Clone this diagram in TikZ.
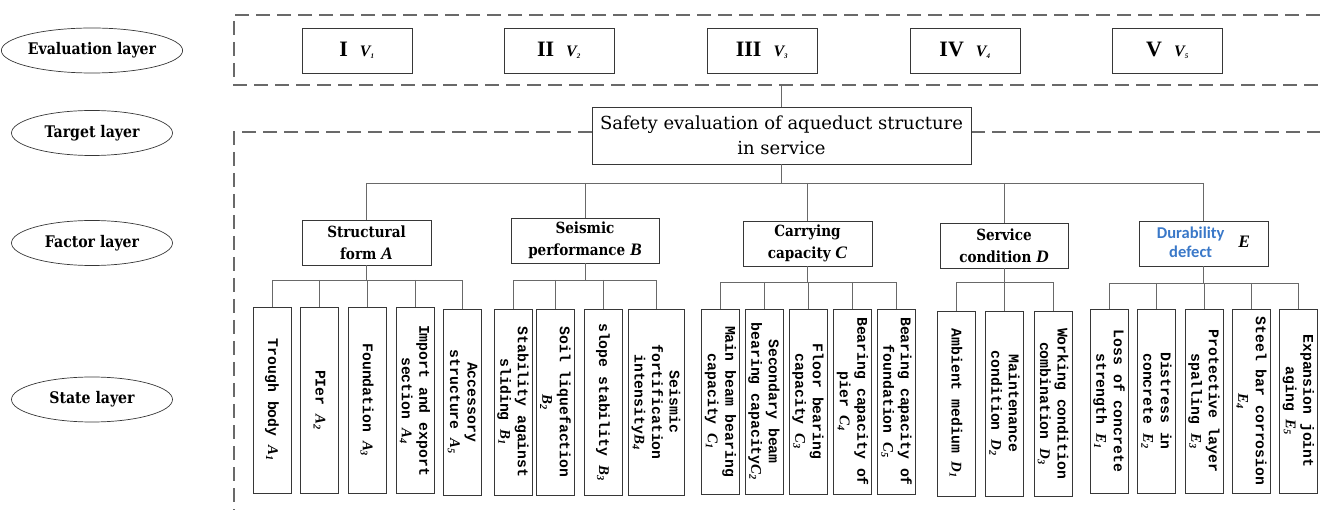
\documentclass[tikz,border=0pt]{standalone}
\usepackage{fontspec}
\setmainfont{Liberation Serif}
\newfontfamily\djs{DejaVu Serif}
\newfontfamily\djb{DejaVu Serif}[FakeStretch=0.88]
\newfontfamily\monof{Liberation Mono}
\newfontfamily\sansf{Carlito}
\usetikzlibrary{shapes.geometric}
\definecolor{dblue}{RGB}{58,120,200}
\definecolor{lgray}{RGB}{105,105,105}
\definecolor{bgray}{RGB}{55,55,55}
\newcommand{\stsub}[2]{{\rmfamily\bfseries\itshape #1}\textsubscript{\rmfamily\itshape #2}}
\newcommand{\fcl}[1]{{\rmfamily\fontsize{17.5}{22}\selectfont\bfseries\itshape #1}}
\newcommand{\evlab}[2]{{\rmfamily\fontsize{22}{24}\selectfont\bfseries #1}\hspace{12pt}{\rmfamily\fontsize{16}{20}\selectfont\bfseries\itshape V}\textsubscript{\rmfamily\bfseries\itshape #2}}
\begin{document}
\begin{tikzpicture}[x=1pt,y=-1pt,
  ell/.style={ellipse, draw=bgray, line width=0.7pt, minimum width=161pt, minimum height=45pt, inner sep=0pt, font=\djb\fontsize{16}{20}\selectfont\bfseries},
  evbox/.style={draw=bgray, line width=0.8pt, minimum width=110pt, minimum height=45pt, inner sep=0pt},
  tgbox/.style={draw=bgray, line width=0.8pt, minimum width=379pt, minimum height=57pt, inner sep=0pt, align=center, font=\djs\fontsize{18}{25}\selectfont},
  fcbox/.style={draw=bgray, line width=0.8pt, minimum width=129pt, minimum height=45pt, inner sep=0pt, align=center, font=\djb\fontsize{15.4}{22}\selectfont\bfseries},
  stbox/.style={draw=bgray, line width=0.8pt, rotate=-90, minimum width=186pt, minimum height=38pt, inner sep=0pt, align=center, font=\monof\fontsize{14.8}{17.5}\selectfont\bfseries},
  conn/.style={draw=lgray, line width=0.9pt},
  dsh/.style={draw=lgray, line width=1.8pt, dash pattern=on 14pt off 7pt}
]
\useasboundingbox (0,0) rectangle (1320,510);

% layer ellipses
\node[ell] (Le) at (92,50.5) {Evaluation layer};
\node[ell] (Lt) at (92,133) {Target layer};
\node[ell] (Lf) at (92,243) {Factor layer};
\node[ell] (Ls) at (92,399.5) {State layer};

% dashed frames
\draw[dsh] (1320,15) -- (234,15) -- (234,85) -- (1320,85);
\draw[dsh] (592,132) -- (234,132) -- (234,510);
\draw[dsh] (971,132) -- (1320,132);

% evaluation boxes
\node[evbox] (V1) at (357,50.5) {\evlab{I}{1}};
\node[evbox] (V2) at (559,50.5) {\evlab{II}{2}};
\node[evbox] (V3) at (762,50.5) {\evlab{III}{3}};
\node[evbox] (V4) at (965,50.5) {\evlab{IV}{4}};
\node[evbox] (V5) at (1167.5,50.5) {\evlab{V}{5}};

% target
\node[tgbox] (T) at (781.5,135.5) {Safety evaluation of aqueduct structure\\in service};
\coordinate (evbot) at (781.5,85);
\draw[conn] (evbot) -- (T.north);

% factor boxes
\node[fcbox] (A) at (366.5,242.5) {Structural\\form \fcl{A}};
\node[fcbox, minimum width=148pt] (B) at (585,240.5) {Seismic\\performance \fcl{B}};
\node[fcbox] (C) at (807.5,243.5) {Carrying\\capacity \fcl{C}};
\node[fcbox, minimum width=128pt] (D) at (1004,245.5) {Service\\condition \fcl{D}};
\node[fcbox] (E) at (1203.5,243.5) {{\sansf\fontsize{16.5}{21}\selectfont\bfseries\color{dblue}\begin{tabular}{@{}c@{}}Durability\\[-2pt]defect\end{tabular}}\hspace{14pt}\fcl{E}};

\coordinate (tbus) at (0,183);
\draw[conn] (T.south) -- (T.south |- tbus);
\draw[conn] (A.north |- tbus) -- (E.north |- tbus);
\foreach \f in {A,B,C,D,E} \draw[conn] (\f.north |- tbus) -- (\f.north);

% state boxes
\node[stbox] (A1) at (272,400) {Trough body \stsub{A}{1}};
\node[stbox] (A2) at (319.5,400) {PIer \stsub{A}{2}};
\node[stbox] (A3) at (367,400) {Foundation \stsub{A}{3}};
\node[stbox] (A4) at (415,400.5) {Import and export\\section \stsub{A}{4}};
\node[stbox] (A5) at (462.5,402) {Accessory\\structure \stsub{A}{5}};

\node[stbox] (B1) at (513,402) {Stability against\\sliding \stsub{B}{1}};
\node[stbox] (B2) at (555.5,402) {Soil liquefaction\\\stsub{B}{2}};
\node[stbox] (B3) at (603,402) {slope stability \stsub{B}{3}};
\node[stbox, minimum height=56pt] (B4) at (656,402) {Seismic\\fortification\\intensity\stsub{B}{4}};

\node[stbox, minimum width=185pt] (C1) at (720.5,401.5) {Main beam bearing\\capacity \stsub{C}{1}};
\node[stbox, minimum width=185pt] (C2) at (764,401.5) {Secondary beam\\bearing capacity\stsub{C}{2}};
\node[stbox, minimum width=185pt] (C3) at (808,401.5) {Floor bearing\\capacity \stsub{C}{3}};
\node[stbox, minimum width=185pt] (C4) at (852.5,401.5) {Bearing capacity of\\pier \stsub{C}{4}};
\node[stbox, minimum width=185pt] (C5) at (896.5,401.5) {Bearing capacity of\\foundation \stsub{C}{5}};

\node[stbox, minimum width=185pt] (D1) at (956,403.5) {Ambient medium \stsub{D}{1}};
\node[stbox, minimum width=185pt] (D2) at (1004.5,403.5) {Maintenance\\condition \stsub{D}{2}};
\node[stbox, minimum width=185pt] (D3) at (1053,403.5) {Working condition\\combination \stsub{D}{3}};

\node[stbox, minimum width=184pt] (E1) at (1109,401) {Loss of concrete\\strength \stsub{E}{1}};
\node[stbox, minimum width=184pt] (E2) at (1156.5,401) {Distress in\\concrete \stsub{E}{2}};
\node[stbox, minimum width=184pt] (E3) at (1204,401) {Protective layer\\spalling \stsub{E}{3}};
\node[stbox, minimum width=184pt] (E4) at (1251.5,401) {Steel bar corrosion\\\stsub{E}{4}};
\node[stbox, minimum width=184pt] (E5) at (1298.5,401) {Expansion joint\\aging \stsub{E}{5}};

% state buses
\coordinate (abus) at (0,280);
\coordinate (bbus) at (0,280);
\coordinate (cbus) at (0,282);
\coordinate (dbus) at (0,282);
\coordinate (ebus) at (0,283);

\draw[conn] (A.south) -- (A.south |- abus);
\draw[conn] (A1.west) -- (A1.west |- abus) -- (A5.west |- abus) -- (A5.west);
\foreach \s in {A2,A3,A4} \draw[conn] (\s.west |- abus) -- (\s.west);

\draw[conn] (B.south) -- (B.south |- bbus);
\draw[conn] (B1.west) -- (B1.west |- bbus) -- (B4.west |- bbus) -- (B4.west);
\foreach \s in {B2,B3} \draw[conn] (\s.west |- bbus) -- (\s.west);

\draw[conn] (C.south) -- (C.south |- cbus);
\draw[conn] (C1.west) -- (C1.west |- cbus) -- (C5.west |- cbus) -- (C5.west);
\foreach \s in {C2,C3,C4} \draw[conn] (\s.west |- cbus) -- (\s.west);

\draw[conn] (D.south) -- (D.south |- dbus);
\draw[conn] (D1.west) -- (D1.west |- dbus) -- (D3.west |- dbus) -- (D3.west);
\draw[conn] (D2.west |- dbus) -- (D2.west);

\draw[conn] (E.south) -- (E.south |- ebus);
\draw[conn] (E1.west) -- (E1.west |- ebus) -- (E5.west |- ebus) -- (E5.west);
\foreach \s in {E2,E3,E4} \draw[conn] (\s.west |- ebus) -- (\s.west);
\end{tikzpicture}
\end{document}
